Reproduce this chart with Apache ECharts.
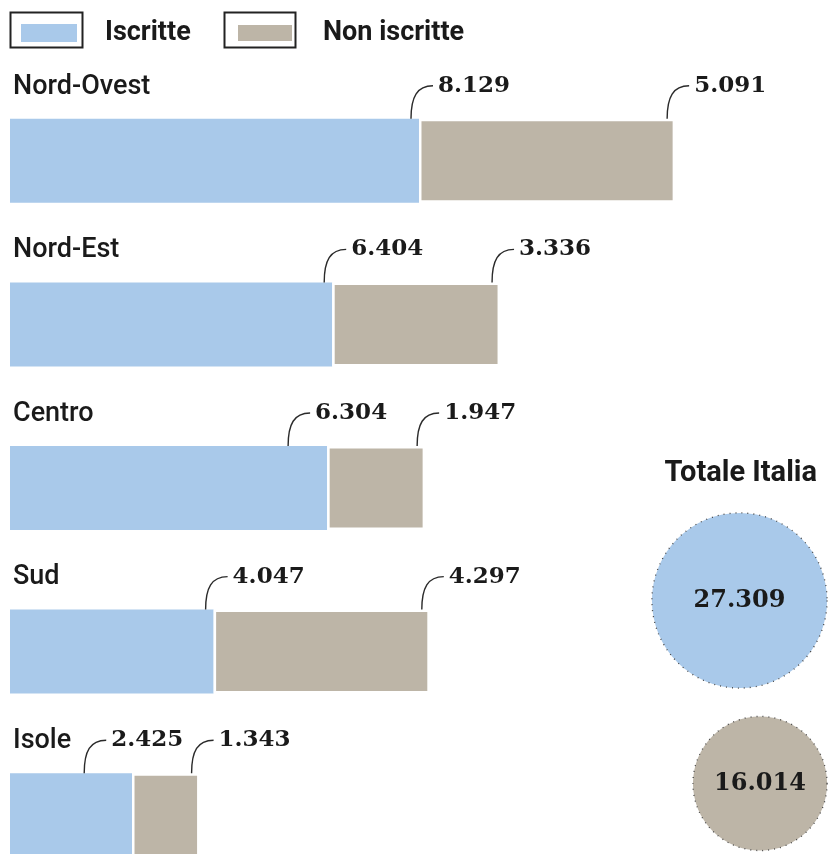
<!DOCTYPE html>
<html><head><meta charset="utf-8">
<script src="https://cdn.jsdelivr.net/npm/echarts@6/dist/echarts.min.js"></script>
<style>html,body{margin:0;padding:0;background:#fff;width:828px;height:854px;overflow:hidden}#c{width:828px;height:900px}</style>
</head><body><div id="c"></div>
<script>
// ---- data ----
const regions = ['Nord-Ovest', 'Nord-Est', 'Centro', 'Sud', 'Isole'];
const iscritte = [8129, 6404, 6304, 4047, 2425];
const nonIscritte = [5091, 3336, 1947, 4297, 1343];
const seriesNames = ['Iscritte', 'Non iscritte'];
const totalTitle = 'Totale Italia';

// ---- style ----
const BLUE = '#a9c9ea';
const GRAY = '#bdb5a7';
const INK = '#1a1a1a';
const BAR_W = 84;
const SANS = 'Roboto, "Open Sans", sans-serif';
const SERIF = '"DejaVu Serif", "Liberation Serif", serif';
const NUM_FONT = 'bold 23px ' + SERIF;
const REGION_FONT = '500 27px ' + SANS;
const LEAD_W = 22, LEAD_H = 33;

const fmt = v => String(v).replace(/\B(?=(\d{3})+(?!\d))/g, '.');
const sum = a => a.reduce((s, v) => s + v, 0);
const totI = sum(iscritte), totN = sum(nonIscritte);
const R = v => 0.53 * Math.sqrt(v);

const measureCtx = document.createElement('canvas').getContext('2d');
function textWidth(t, font) { measureCtx.font = font; return measureCtx.measureText(t).width; }

function labelRenderer(stackIdx) {
  return function (params, api) {
    const i = params.dataIndex;
    const total = iscritte[i] + nonIscritte[i];
    const cum = stackIdx === 0 ? iscritte[i] : total;
    const val = stackIdx === 0 ? iscritte[i] : nonIscritte[i];
    const p = api.coord([cum, i]);
    const p0 = api.coord([0, i]);
    const barTop = p[1] - BAR_W / 2;
    const tw = textWidth(fmt(val), NUM_FONT);
    let lx = p[0] - 8;
    if (stackIdx === 0) {
      const nextLx = api.coord([total, i])[0] - 8;
      if (lx + LEAD_W + 5 + tw + 8 > nextLx) {
        const regionEnd = p0[0] + 3 + textWidth(regions[i], REGION_FONT);
        lx = Math.max(nextLx - (LEAD_W + 5 + tw + 30), regionEnd + 13);
      }
    }
    const ty = barTop - LEAD_H;
    const children = [
      { type: 'bezierCurve',
        shape: { x1: lx, y1: barTop, cpx1: lx, cpy1: barTop - 22, cpx2: lx + 6, cpy2: ty, x2: lx + LEAD_W, y2: ty },
        style: { stroke: '#2a2a2a', lineWidth: 1.4, fill: null } },
      { type: 'text',
        style: { text: fmt(val), x: lx + LEAD_W + 5, y: ty, font: NUM_FONT, fill: INK, align: 'left', verticalAlign: 'middle' } }
    ];
    if (stackIdx === 0) {
      children.push({ type: 'text',
        style: { text: regions[i], x: p0[0] + 3, y: ty + 1, font: REGION_FONT, fill: INK, align: 'left', verticalAlign: 'middle' } });
    }
    return { type: 'group', children };
  };
}

const chart = echarts.init(document.getElementById('c'));
chart.setOption({
  backgroundColor: '#fff',
  animation: false,
  title: {
    text: totalTitle, right: 6, top: 454,
    textStyle: { fontFamily: SANS, fontWeight: 'bold', fontSize: 29, color: INK }
  },
  legend: [
    { data: [seriesNames[0]], left: 16, top: 13, itemWidth: 56, itemHeight: 18, icon: 'rect',
      selectedMode: false,
      textStyle: { fontFamily: SANS, fontWeight: 'bold', fontSize: 27, color: INK, lineHeight: 30, padding: [0, 0, 0, 23] } },
    { data: [seriesNames[1]], left: 231, top: 13, itemWidth: 56, itemHeight: 18, icon: 'rect',
      selectedMode: false,
      textStyle: { fontFamily: SANS, fontWeight: 'bold', fontSize: 27, color: INK, lineHeight: 30, padding: [0, 0, 0, 25] } }
  ],
  graphic: [
    { type: 'rect', left: 8, top: 10, shape: { width: 72, height: 35 }, style: { fill: null, stroke: '#222', lineWidth: 2 } },
    { type: 'rect', left: 222, top: 10, shape: { width: 71, height: 35 }, style: { fill: null, stroke: '#222', lineWidth: 2 } }
  ],
  grid: [
    { left: 10, width: 805, top: 79, height: 818 },
    { left: 652, width: 175, top: 509, height: 366 }
  ],
  xAxis: [
    { type: 'value', min: 0, max: 16000, show: false, gridIndex: 0 },
    { type: 'category', data: [totalTitle], show: false, gridIndex: 1 }
  ],
  yAxis: [
    { type: 'category', data: regions, inverse: true, gridIndex: 0, show: false },
    { type: 'category', data: seriesNames, inverse: true, show: false, gridIndex: 1 }
  ],
  series: [
    { name: seriesNames[0], type: 'bar', stack: 'tot', data: iscritte, barWidth: BAR_W,
      itemStyle: { color: BLUE }, silent: true },
    { name: seriesNames[1], type: 'bar', stack: 'tot', data: nonIscritte, barWidth: BAR_W,
      itemStyle: { color: GRAY, borderColor: '#fff', borderWidth: 2.5 }, silent: true },
    { type: 'custom', renderItem: labelRenderer(0), data: iscritte.map((v, i) => [v, i]),
      encode: { x: 0, y: 1 }, silent: true, z: 5 },
    { type: 'custom', renderItem: labelRenderer(1), data: nonIscritte.map((v, i) => [iscritte[i] + v, i]),
      encode: { x: 0, y: 1 }, silent: true, z: 5 },
    { type: 'scatter', xAxisIndex: 1, yAxisIndex: 1, silent: true,
      data: [
        { value: [0, 0, totI], symbolSize: 2 * R(totI), itemStyle: { color: BLUE } },
        { value: [0, 1, totN], symbolSize: 2 * R(totN), symbolOffset: [R(totI) - R(totN), 0], itemStyle: { color: GRAY } }
      ],
      itemStyle: { opacity: 1, borderColor: '#444', borderWidth: 1.3, borderType: [1, 5] },
      label: { show: true, position: 'inside', formatter: p => fmt(p.value[2]), fontFamily: SERIF, fontWeight: 'bold', fontSize: 24, color: INK }
    }
  ]
});
</script>
</body></html>
